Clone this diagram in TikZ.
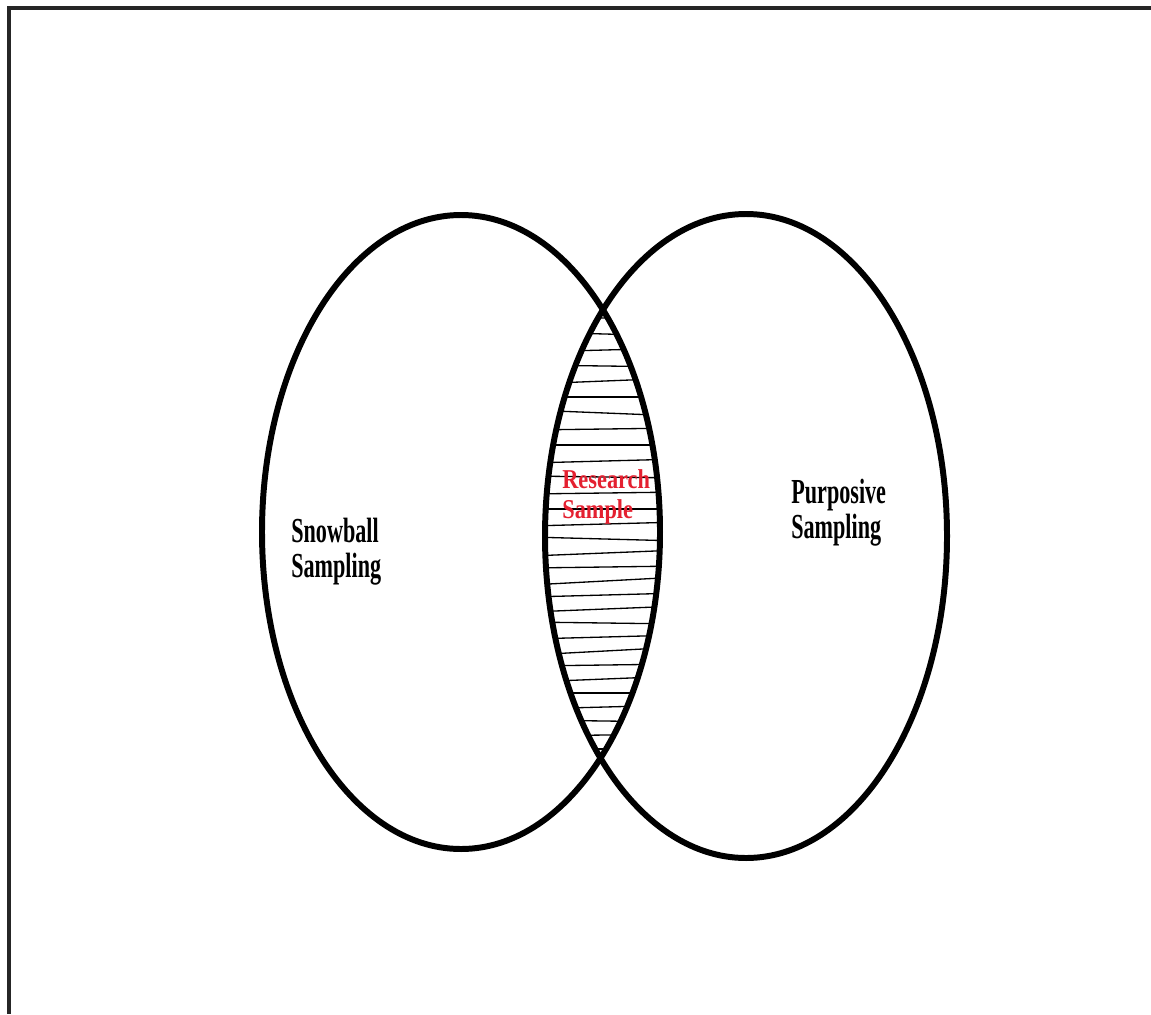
\documentclass[tikz,border=0pt]{standalone}
\usepackage{fontspec}
\usepackage{xcolor}
\usepackage{tikz}
\newfontfamily\setfont[FakeStretch=0.63]{Liberation Serif}
\newfontfamily\samplefont[FakeStretch=0.82]{Liberation Serif}
\definecolor{samplered}{RGB}{228,32,48}
\tikzstyle{setline} = [line width=3.4pt]
\tikzstyle{frameline} = [line width=2pt, black!85]
\tikzstyle{hatch} = [line width=0.75pt]
\tikzstyle{setlabel} = [anchor=west, align=left, inner sep=0pt, font=\setfont\bfseries\fontsize{20}{20}\selectfont]
\tikzstyle{samplelabel} = [anchor=west, align=left, inner sep=0pt, text=samplered, font=\samplefont\bfseries\fontsize{15.5}{17.5}\selectfont]

\begin{document}
\begin{tikzpicture}[x=0.02cm, y=-0.02cm]
  \useasboundingbox (0,0) rectangle (1151,1014);

  % Rahmen (nur oben und links)
  \draw[frameline] (1151,8) -- (9,8) -- (9,1014);

  % Schraffur der Schnittmenge
  \begin{scope}
    \clip (461,532) ellipse [x radius=199, y radius=317];
    \clip (746,536) ellipse [x radius=201, y radius=322];
    \foreach \y/\t in {318/1, 334/-2, 350/2, 366/-1, 381/3, 397/0, 413/-3, 429/1, 445/0,
                       461/2, 477/-1, 493/1, 509/0, 524/2, 539/-2, 553/3, 567/1, 581/4,
                       595/2, 609/3, 623/-1, 637/2, 651/4, 665/1, 679/3, 693/0, 707/2,
                       721/-1, 735/1, 749/0, 763/1}
      \draw[hatch] (530,\y+\t) -- (680,\y-\t);
  \end{scope}

  % Kreise
  \draw[setline] (461,532) ellipse [x radius=199, y radius=317];
  \draw[setline] (746,536) ellipse [x radius=201, y radius=322];

  % Beschriftungen
  \node[setlabel] (snowball) at (291,552) {Snowball\\Sampling};
  \node[setlabel] (purposive) at (791,513) {Purposive\\Sampling};
  \node[samplelabel] (sample) at (562,497) {Research\\Sample};
\end{tikzpicture}
\end{document}
